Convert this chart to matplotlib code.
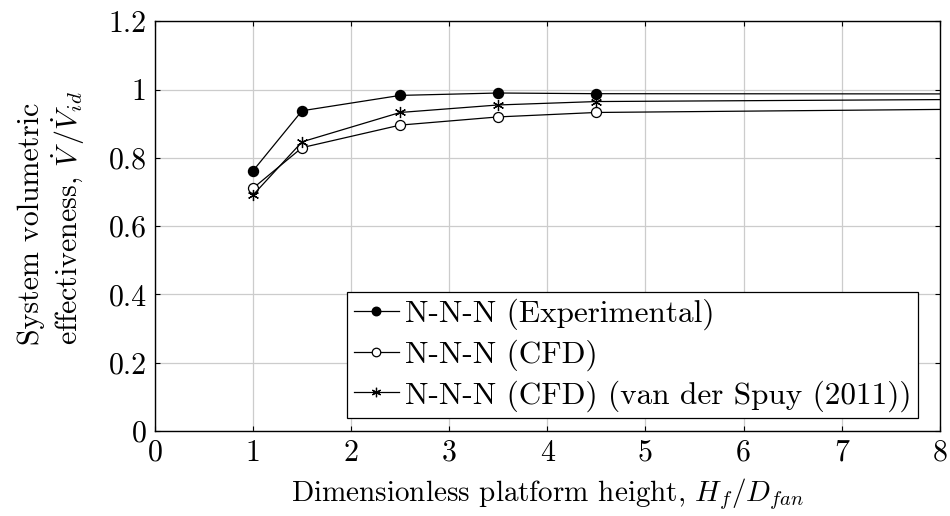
import matplotlib
matplotlib.use('Agg')
import matplotlib.pyplot as plt
from matplotlib.ticker import FormatStrFormatter

plt.rcParams['font.family'] = 'cmr10'
plt.rcParams['mathtext.fontset'] = 'cm'
plt.rcParams['axes.formatter.use_mathtext'] = True
plt.rcParams['axes.unicode_minus'] = False

# data (last point sits beyond x=8, so the lines run off the right edge)
x_exp = [1, 1.5, 2.5, 3.5, 4.5, 10]
y_exp = [0.762, 0.938, 0.983, 0.99, 0.988, 0.987]

x_cfd = [1, 1.5, 2.5, 3.5, 4.5, 10]
y_cfd = [0.711, 0.83, 0.896, 0.92, 0.933, 0.947]

x_vds = [1, 1.5, 2.5, 3.5, 4.5, 10]
y_vds = [0.691, 0.847, 0.933, 0.955, 0.965, 0.974]

labels = ['N-N-N (Experimental)', 'N-N-N (CFD)', 'N-N-N (CFD) (van der Spuy (2011))']

xticks = [0, 1, 2, 3, 4, 5, 6, 7, 8]
yticks = [0, 0.2, 0.4, 0.6, 0.8, 1, 1.2]

fig = plt.figure(figsize=(9.5, 5.16), dpi=100)
ax = fig.add_axes([0.163, 0.1647, 0.8263, 0.7940])

lw = 0.9
ax.plot(x_exp, y_exp, color='black', lw=lw, marker='o', ms=7.2,
        mfc='black', mec='black', label=labels[0])
ax.plot(x_cfd, y_cfd, color='black', lw=lw, marker='o', ms=7.2,
        mfc='white', mec='black', mew=0.9, label=labels[1])
ax.plot(x_vds, y_vds, color='black', lw=lw, marker=(6, 2, 0), ms=8,
        mec='black', mew=0.9, label=labels[2])

ax.set_xlim(0, 8)
ax.set_ylim(0, 1.2)
ax.set_xticks(xticks)
ax.set_yticks(yticks)
ax.xaxis.set_major_formatter(FormatStrFormatter('%g'))
ax.yaxis.set_major_formatter(FormatStrFormatter('%g'))
ax.tick_params(direction='in', top=True, right=True, length=3.5, width=0.8,
               labelsize=21.5, pad=6)
ax.grid(True, color='#cccccc', lw=0.9)
ax.set_axisbelow(True)
for s in ax.spines.values():
    s.set_linewidth(1.0)

ax.set_xlabel(r'Dimensionless platform height, $H_f/D_{fan}$', fontsize=21)
ax.xaxis.label.set_va('center')
ax.xaxis.set_label_coords(0.5, -0.155)
ax.set_ylabel('System volumetric\n' + r'effectiveness, $\dot{V}\,/\dot{V}_{id}$',
              fontsize=21.5, multialignment='left', linespacing=1.15)
ax.yaxis.label.set_va('center')
ax.yaxis.set_label_coords(-0.131, 0.52)

leg = ax.legend(loc='lower right', bbox_to_anchor=(0.972, 0.032), fontsize=22.5,
                frameon=True, fancybox=False, framealpha=1, edgecolor='black',
                handlelength=1.45, handletextpad=0.2, labelspacing=0.3,
                borderpad=0.2, borderaxespad=0, markerscale=0.85)
leg.get_frame().set_linewidth(0.9)

fig.savefig('out.png', dpi=100)
